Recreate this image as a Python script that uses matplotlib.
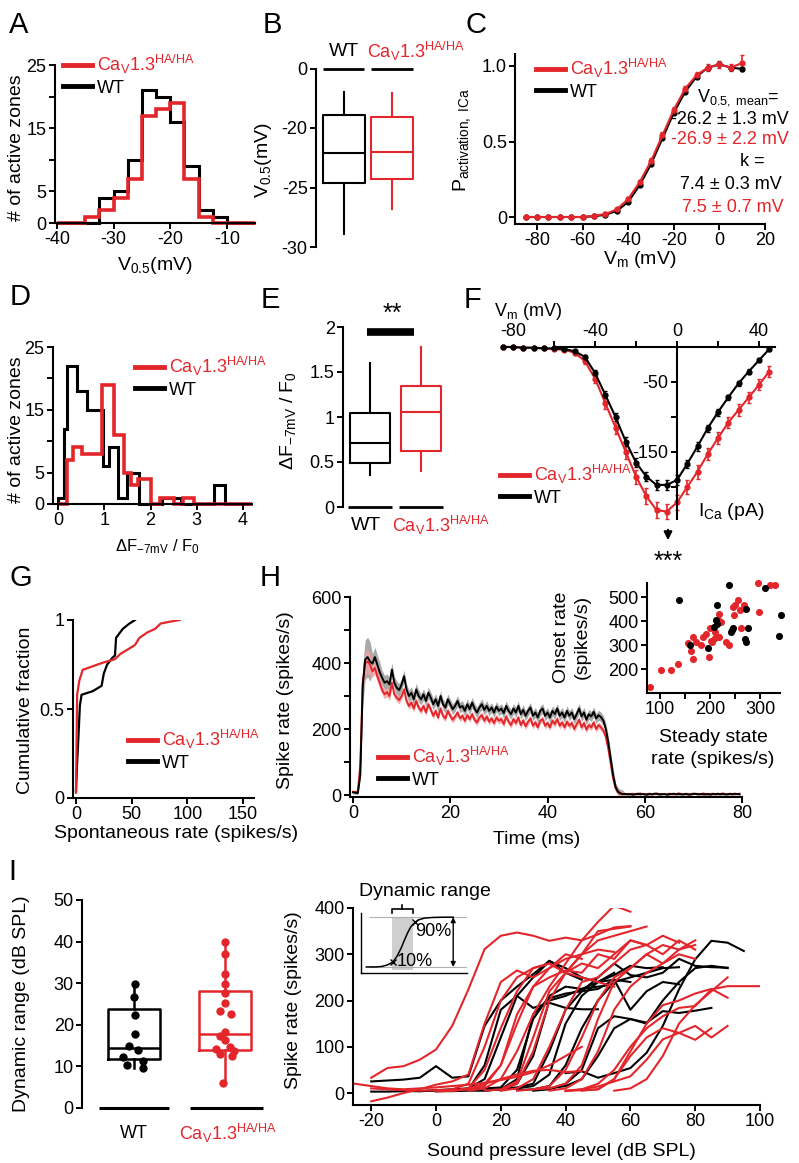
import numpy as np
import matplotlib
matplotlib.use('Agg')
import matplotlib.pyplot as plt
from matplotlib.lines import Line2D
from matplotlib.patches import FancyArrowPatch

plt.rcParams['font.family'] = ['Liberation Sans', 'DejaVu Sans']
plt.rcParams['mathtext.fontset'] = 'custom'
plt.rcParams['mathtext.rm'] = 'Liberation Sans'
plt.rcParams['mathtext.it'] = 'Liberation Sans:italic'
plt.rcParams['mathtext.bf'] = 'Liberation Sans:bold'
plt.rcParams['axes.unicode_minus'] = False

RED = '#e3262b'
FT = 13    # tick labels
FL = 14    # axis labels
FG = 13    # legends, small annotations
FP = 21    # panel letters
CAV = r'Ca$_\mathregular{V}$1.3$^\mathregular{HA/HA}$'

# ---------------- data ----------------
# A: V0.5 histograms
a_edges = [-40, -37.5, -35, -32.5, -30, -27.5, -25, -22.5, -20, -17.5, -15, -12.5, -10, -7.5, -5]
a_wt = [0, 0, 0, 4, 5, 10, 21, 20, 16, 9, 2, 1, 0, 0]
a_ha = [0, 0, 1, 2, 4, 7, 17, 18, 19, 7, 1, 0, 0, 0]

# B: V0.5 box stats (WT, HA)
b_wt = dict(med=-22.1, q1=-24.65, q3=-18.9, whislo=-28.9, whishi=-16.95)
b_ha = dict(med=-22.0, q1=-24.3, q3=-19.05, whislo=-26.8, whishi=-17.1)

# C: activation curves
c_v = [-85, -80, -75, -70, -65, -60, -55, -50, -45, -40, -35, -30, -25, -20, -15, -10, -5, 0, 5, 10]
c_wt = [0, 0, 0, 0, 0, 0, 0.005, 0.015, 0.04, 0.1, 0.21, 0.35, 0.52, 0.69, 0.83, 0.93, 0.99, 1.01, 0.99, 0.98]
c_ha = [0, 0, 0, 0, 0, 0, 0.008, 0.02, 0.05, 0.12, 0.23, 0.37, 0.54, 0.71, 0.85, 0.94, 0.99, 1.01, 0.99, 1.02]
c_ha_err = [0, 0, 0, 0, 0, 0, 0.005, 0.01, 0.01, 0.015, 0.015, 0.02, 0.02, 0.02, 0.02, 0.02, 0.02, 0.02, 0.02, 0.05]

# D: dF/F0 histograms
d_wt_edges = [0, 0.12, 0.2, 0.42, 0.62, 0.98, 1.1, 1.29, 1.5, 1.76, 2.25, 2.65, 3.38, 3.62, 4.2]
d_wt = [1, 12, 22, 18, 15, 6, 9, 1, 5, 0, 1, 0, 3, 0]
d_ha_edges = [0, 0.19, 0.33, 0.52, 0.95, 1.22, 1.42, 1.58, 1.72, 2.0, 2.2, 2.5, 2.7, 2.95, 4.2]
d_ha = [0, 7, 9, 8, 19, 11, 5, 3, 4, 0, 1, 0, 1, 0]

# E: dF/F0 box stats
e_wt = dict(med=0.71, q1=0.49, q3=1.04, whislo=0.36, whishi=1.6)
e_ha = dict(med=1.06, q1=0.62, q3=1.34, whislo=0.4, whishi=1.78)

# F: I-V curves
f_v = [-85, -80, -75, -70, -65, -60, -55, -50, -45, -40, -35, -30, -25, -20,
       -15, -10, -5, 0, 5, 10, 15, 20, 25, 30, 35, 40, 45]
f_wt = [0, 0, -1, -1, -2, -2, -3, -6, -14, -37, -68, -100, -135, -165,
        -185, -197, -197, -190, -167, -142, -116, -93, -72, -52, -35, -19, -3]
f_ha = [0, 0, -1, -1, -2, -3, -4, -8, -20, -45, -80, -115, -150, -185,
        -213, -233, -235, -222, -200, -178, -153, -130, -108, -90, -72, -54, -35]
f_wt_err = [1, 1, 1, 1, 1, 1, 1, 2, 3, 4, 5, 6, 6, 6, 7, 7, 7, 7, 6, 6, 5, 5, 4, 4, 4, 3, 3]
f_ha_err = [1, 1, 1, 1, 1, 1, 2, 3, 4, 6, 8, 9, 10, 10, 11, 11, 11, 11, 10, 10, 9, 9, 8, 8, 8, 8, 8]

# G: cumulative spontaneous rate
g_wt_x = [0, 1, 2, 3.5, 5, 15, 23, 25, 28, 33, 35, 36, 42, 48, 53]
g_wt_y = [0.04, 0.2, 0.32, 0.52, 0.58, 0.6, 0.63, 0.7, 0.75, 0.79, 0.8, 0.9, 0.95, 0.98, 1.0]
g_ha_x = [0, 0.5, 1, 3, 6, 15, 24, 35, 40, 48, 53, 57, 64, 71, 76, 84, 93]
g_ha_y = [0.03, 0.3, 0.58, 0.66, 0.72, 0.74, 0.76, 0.78, 0.81, 0.84, 0.86, 0.9, 0.93, 0.95, 0.98, 0.99, 1.0]

# H: PSTH, 0.5 ms bins
h_wt = [8, 7, 6, 60, 330, 410, 418, 405, 398, 418, 395, 372, 355, 340, 345, 335, 380, 340, 325, 318,
        335, 360, 320, 300, 310, 290, 320, 300, 290, 305, 285, 310, 295, 275, 290, 270, 300, 275, 265, 290,
        275, 260, 270, 285, 265, 270, 255, 275, 260, 280, 262, 250, 265, 275, 258, 270, 255, 265, 250, 268,
        255, 262, 248, 270, 255, 245, 262, 250, 270, 245, 258, 240, 255, 265, 240, 250, 235, 255, 262, 240,
        250, 235, 255, 245, 262, 240, 250, 235, 255, 240, 250, 230, 245, 262, 238, 250, 228, 245, 238, 252,
        232, 242, 236, 225, 200, 160, 110, 60, 25, 10, 5, 3, 3,
        2, 3, 1, 2, 4, 2, 3, 2, 1, 3, 2, 4, 3, 2, 2, 3, 1, 2, 3, 4, 2, 3, 2, 2, 3, 1, 2, 4, 3, 2,
        3, 2, 2, 3, 1, 3, 2, 4, 2, 3, 2, 2, 3, 2, 4, 3, 2]
h_ha = [10, 8, 12, 90, 340, 400, 405, 395, 375, 385, 360, 340, 318, 305, 312, 300, 340, 305, 295, 288,
        300, 320, 285, 270, 280, 262, 285, 265, 255, 270, 250, 275, 258, 240, 255, 235, 262, 240, 232, 255,
        240, 228, 238, 250, 232, 240, 225, 242, 230, 245, 228, 220, 235, 242, 225, 238, 222, 232, 218, 235,
        225, 230, 215, 238, 222, 212, 230, 218, 235, 212, 226, 208, 222, 232, 210, 220, 205, 225, 230, 210,
        218, 205, 225, 215, 230, 210, 220, 205, 222, 210, 218, 200, 215, 228, 205, 218, 198, 212, 205, 220,
        200, 212, 205, 195, 175, 140, 95, 50, 20, 8, 4, 3, 3,
        3, 2, 4, 3, 2, 5, 3, 2, 3, 4, 2, 3, 5, 2, 3, 3, 2, 4, 3, 2, 3, 5, 3, 2, 4, 3, 2, 3, 4, 3,
        2, 5, 3, 2, 3, 4, 3, 2, 3, 5, 3, 2, 4, 3, 2, 3, 4]
# SEM in 2 ms bins
h_wt_sem2 = [5, 60, 30, 22, 20, 18, 18, 17, 17, 16, 16, 16, 16, 16, 15, 15, 15, 15, 15, 15, 15,
             15, 15, 15, 15, 15, 18, 12, 3, 2, 2, 2, 2, 2, 2, 2, 2, 2, 2, 2, 2]
h_ha_sem2 = [5, 35, 18, 14, 12, 11, 11, 10, 10, 10, 10, 10, 10, 10, 10, 10, 10, 10, 10, 10, 10,
             10, 10, 10, 10, 10, 12, 8, 2, 2, 2, 2, 2, 2, 2, 2, 2, 2, 2, 2, 2]

# H inset: steady state vs onset rate
hi_wt_x = [138, 238, 214, 211, 214, 208, 160, 195, 243, 245, 241, 272, 276, 269, 272, 310, 341, 338]
hi_wt_y = [486, 548, 468, 404, 386, 376, 298, 289, 362, 372, 356, 449, 369, 325, 311, 537, 427, 338]
hi_ha_x = [79, 101, 122, 136, 166, 162, 166, 172, 181, 186, 191, 197, 200, 202, 209, 217, 221, 217,
           216, 238, 245, 247, 255, 250, 260, 262, 267, 297, 295, 319, 329, 210, 155, 203, 231]
hi_ha_y = [124, 197, 197, 221, 241, 276, 335, 314, 300, 332, 346, 248, 369, 317, 328, 335, 397, 428,
           404, 300, 459, 424, 489, 466, 445, 369, 466, 438, 558, 548, 548, 355, 310, 314, 314]

# I left: dynamic range
i_wt_box = dict(med=14.5, q1=11.8, q3=23.7, whislo=9.5, whishi=29.8)
i_ha_box = dict(med=17.7, q1=14.0, q3=28.2, whislo=6.1, whishi=39.8)
i_wt = [29.8, 26.8, 22.4, 17.7, 15.0, 14.0, 12.3, 11.2, 10.3, 9.5]
i_wt_off = [0.01, 0.0, 0.01, 0.01, -0.06, 0.04, -0.12, 0.1, -0.08, 0.1]
i_ha = [39.8, 37.0, 32.2, 29.9, 27.7, 25.3, 23.2, 22.6, 18.3, 17.2, 16.3, 14.7, 14.1, 13.8, 12.9, 12.5, 6.1]
i_ha_off = [0.0, 0.0, 0.0, 0.0, 0.0, 0.0, -0.06, 0.07, 0.0, -0.05, 0.0, 0.05, -0.1, 0.1, -0.06, 0.08, -0.02]

# I right: rate-level functions, (first level dB SPL, rates every 5 dB)
rl_wt = [
    (-20, [25, 27, 29, 33, 58, 33, 36, 145, 200, 230, 257, 286, 260, 245]),
    (-20, [3, 3, 4, 4, 5, 5, 8, 60, 180, 210, 184, 195, 184, 181, 181]),
    (-10, [5, 4, 6, 8, 10, 30, 120, 210, 250, 285, 270, 250, 240, 260]),
    (0, [5, 6, 8, 10, 12, 50, 160, 210, 230, 225, 240, 255, 275, 270, 272]),
    (20, [10, 12, 20, 90, 180, 220, 250, 280, 255, 250, 260, 290, 275, 272, 271]),
    (20, [8, 10, 15, 40, 150, 210, 240, 245, 180, 220, 240, 235]),
    (25, [6, 8, 15, 60, 140, 200, 240, 250, 260, 270, 272]),
    (30, [5, 8, 20, 50, 140, 166, 160, 152, 177, 173, 178, 184]),
    (40, [43, 47, 33, 43, 54, 87, 145, 224, 289, 329, 325, 307]),
    (15, [5, 8, 30, 170, 205, 215, 220, 225, 245, 240]),
    (0, [4, 4, 5, 5, 8, 20, 80, 200, 210, 225, 230, 235]),
    (35, [10, 15, 30, 80, 140, 160, 150, 200, 240, 270, 275, 270]),
]
rl_ha = [
    (-20, [33, 54, 58, 72, 94, 145, 224, 311, 340, 347, 340, 329, 336, 330, 343, 358, 361]),
    (10, [5, 10, 30, 90, 170, 230, 280, 330, 370, 405, 392]),
    (5, [5, 8, 20, 60, 150, 230, 270, 290, 300, 330, 340, 350, 360]),
    (0, [5, 5, 8, 15, 60, 170, 230, 250, 265, 260, 300, 290, 330, 320]),
    (-20, [10, 8, 6, 5, 6, 8, 20, 100, 200, 250, 270, 280, 260, 300, 310, 305]),
    (-20, [-18, -10, 0, 8, 18, 25, 40, 150, 240, 265, 250, 270, 300, 290]),
    (15, [5, 8, 25, 120, 220, 260, 280, 270, 300, 330, 320, 340, 325]),
    (20, [5, 10, 30, 100, 180, 240, 250, 280, 310, 320, 300, 330, 310]),
    (25, [5, 8, 15, 50, 120, 200, 250, 270, 300, 320, 310, 330]),
    (30, [8, 10, 20, 60, 160, 240, 270, 300, 280, 310, 320]),
    (35, [5, 10, 30, 90, 180, 230, 260, 280, 300, 290]),
    (40, [4, 8, 14, 25, 36, 72, 116, 130, 145, 120, 145]),
    (40, [5, 8, 20, 50, 100, 140, 166, 184, 188, 224, 231, 231, 231]),
    (45, [5, 8, 30, 90, 150, 190, 200, 215, 225, 206]),
    (40, [5, 6, 8, 30, 80, 120, 140, 130, 115, 140]),
    (55, [5, 10, 30, 80, 150, 190, 220, 250]),
    (0, [3, 5, 10, 20, 30, 40, 48, 50, 45, 48]),
    (-25, [20, 15, 10, 8, 10, 12, 15, 18, 22, 28, 35, 45, 60, 80, 100]),
    (20, [6, 20, 90, 200, 260, 300, 350, 355, 360]),
    (5, [5, 10, 50, 140, 220, 270, 280, 260, 250, 240, 230]),
]

# I inset schematic sigmoid (axes units 0-100)
sk_x = [5, 15, 20, 25, 30, 34, 38, 41, 44, 47, 51, 55, 60, 68, 78, 87]
sk_y = [10, 10.2, 11, 13.5, 18.3, 28, 42, 55, 67, 77, 84.7, 89, 91.5, 92.6, 93, 93]

# ---------------- layout helpers ----------------
W, H = 799, 1163
fig = plt.figure(figsize=(W / 100, H / 100), dpi=100)


def place(xlim, ylim, xcal, ycal):
    # axes whose data coords map onto the given pixel calibration points
    (a, pa), (b, pb) = xcal
    sx = (pb - pa) / (b - a)
    x0 = pa + (xlim[0] - a) * sx
    x1 = pa + (xlim[1] - a) * sx
    (c, pc), (d, pd) = ycal
    sy = (pd - pc) / (d - c)
    yb = pc + (ylim[0] - c) * sy
    yt = pc + (ylim[1] - c) * sy
    ax = fig.add_axes([x0 / W, 1 - yb / H, (x1 - x0) / W, (yb - yt) / H])
    ax.set_xlim(xlim)
    ax.set_ylim(ylim)
    ax.patch.set_alpha(0)
    ax.spines['top'].set_visible(False)
    ax.spines['right'].set_visible(False)
    for s in ax.spines.values():
        s.set_linewidth(1.5)
    ax.tick_params(which='both', direction='out', length=4, width=1.4, labelsize=FT, pad=2)
    return ax


def txt(x, y, s, **kw):
    kw.setdefault('ha', 'center')
    kw.setdefault('va', 'center')
    kw.setdefault('fontsize', FL)
    fig.text(x / W, 1 - y / H, s, **kw)


def leg(ax, x, y, lw=3.5):
    hs = [Line2D([], [], color=RED, lw=lw), Line2D([], [], color='k', lw=lw)]
    ax.legend(hs, [CAV, 'WT'], loc='upper left', bbox_to_anchor=(x / W, 1 - y / H),
              bbox_transform=fig.transFigure, frameon=False, handlelength=1.6,
              handletextpad=0.3, labelspacing=0.2, borderpad=0, borderaxespad=0,
              fontsize=FG, labelcolor='linecolor')


def box(ax, st, pos, color, width, lw=1.5):
    ax.bxp([dict(st, fliers=[])], positions=[pos], widths=width, showcaps=False,
           showfliers=False, boxprops=dict(color=color, lw=lw),
           medianprops=dict(color=color, lw=lw), whiskerprops=dict(color=color, lw=lw),
           manage_ticks=False)


# ---------------- A ----------------
ax = place((-40.4, -5), (0, 25), ((-40, 57), (-10, 227)), ((0, 223), (25, 65)))
ax.stairs(a_wt, a_edges, color='k', lw=2.2, clip_on=False)
ax.stairs(a_ha, a_edges, color=RED, lw=2.6, clip_on=False)
ax.set_xticks([-40, -30, -20, -10])
ax.set_yticks([0, 5, 10, 15, 20, 25], ['0', '5', '', '15', '', '25'])
leg(ax, 63, 53)
txt(17, 148, '# of active zones', rotation=90)
txt(155, 266, r'V$_\mathregular{0.5}$(mV)')

# ---------------- B ----------------
ax = place((0.417, 2.45), (-30, -15), ((1, 344), (2, 392)), ((-20, 128), (-25, 187.5)))
box(ax, b_wt, 1, 'k', 0.86)
box(ax, b_ha, 2, RED, 0.86)
ax.hlines([-15, -15], [0.56, 1.56], [1.42, 2.44], colors='k', lw=2, clip_on=False)
ax.spines['bottom'].set_visible(False)
ax.set_xticks([])
ax.set_yticks([-30, -25, -20, -15], ['-30', '-25', '-20', '0'])
txt(344, 51, 'WT')
txt(367, 51, CAV, color=RED, ha='left', fontsize=FG)
txt(264, 160, r'V$_\mathregular{0.5}$(mV)', rotation=90)

# ---------------- C ----------------
ax = place((-89.5, 20), (-0.045, 1.08), ((-80, 537), (20, 765)), ((0, 217), (1, 66)))
ax.errorbar(c_v, c_ha, yerr=c_ha_err, color=RED, lw=1.5, marker='o', ms=3.5, capsize=1.5, elinewidth=1.2)
ax.plot(c_v, c_wt, color='k', lw=1.5, marker='o', ms=3.5)
ax.set_xticks([-80, -60, -40, -20, 0, 20])
ax.set_yticks([0, 0.5, 1.0], ['0', '0.5', '1.0'])
leg(ax, 536, 57)
txt(462, 140, r'P$_\mathregular{activation,\ ICa}$', rotation=90)
txt(640, 259, r'V$_\mathregular{m}$ (mV)')
txt(738, 98, r'V$_\mathregular{0.5,\ mean}$=', fontsize=FG)
txt(730, 119, '-26.2 ± 1.3 mV', fontsize=FG)
txt(730, 140, '-26.9 ± 2.2 mV', color=RED, fontsize=FG)
txt(752, 161, 'k =', fontsize=FG)
txt(731, 184, '7.4 ± 0.3 mV', fontsize=FG)
txt(733, 207, '7.5 ± 0.7 mV', color=RED, fontsize=FG)

# ---------------- D ----------------
ax = place((-0.11, 4.2), (0, 25), ((0, 58), (4, 243)), ((0, 504), (25, 347)))
ax.stairs(d_wt, d_wt_edges, color='k', lw=2.2, clip_on=False)
ax.stairs(d_ha, d_ha_edges, color=RED, lw=2.6, clip_on=False)
ax.set_xticks([0, 1, 2, 3, 4])
ax.set_yticks([0, 5, 10, 15, 20, 25], ['0', '5', '', '15', '', '25'])
leg(ax, 135, 355)
txt(17, 430, '# of active zones', rotation=90)
txt(157, 547, r'ΔF$_\mathregular{-7mV}$ / F$_\mathregular{0}$', fontsize=12)

# ---------------- E ----------------
ax = place((0.47, 2.45), (0, 2), ((1, 370), (2, 421)), ((0, 507), (2, 327)))
box(ax, e_wt, 1, 'k', 0.8)
box(ax, e_ha, 2, RED, 0.8)
ax.hlines([0, 0], [0.56, 1.56], [1.44, 2.44], colors='k', lw=2, clip_on=False)
ax.plot([0.94, 1.86], [1.94, 1.94], color='k', lw=5.5, solid_capstyle='butt', clip_on=False)
ax.spines['bottom'].set_visible(False)
ax.set_xticks([])
ax.set_yticks([0, 0.5, 1, 1.5, 2], ['0', '0.5', '1', '1.5', '2'])
txt(392, 314, '**', fontsize=18)
txt(366, 525, 'WT')
txt(392, 525, CAV, color=RED, ha='left', fontsize=FG)
txt(288, 420, r'ΔF$_\mathregular{-7mV}$ / F$_\mathregular{0}$', rotation=90)

# ---------------- F ----------------
ax = place((-90, 50), (-250, 0), ((0, 677), (40, 759)), ((0, 347), (-100, 417)))
ax.spines['bottom'].set_visible(False)
ax.spines['top'].set_visible(True)
ax.spines['top'].set_bounds(-60, 48)
ax.spines['left'].set_position(('data', 0))
ax.spines['left'].set_bounds(-246, 0)
ax.xaxis.tick_top()
ax.set_xticks([-80, -40, 0, 40])
ax.set_xticks([-60, -20, 20], minor=True)
ax.xaxis.get_major_ticks()[0].tick2line.set_visible(False)
ax.set_yticks([-50, -150])
ax.set_yticks([-100, -200], minor=True)
ax.tick_params(axis='x', which='both', pad=1)
ax.errorbar(f_v, f_ha, yerr=f_ha_err, color=RED, lw=1.5, marker='o', ms=3.5, capsize=1.5,
            elinewidth=1.2, clip_on=False)
ax.errorbar(f_v, f_wt, yerr=f_wt_err, color='k', lw=1.5, marker='o', ms=3.5, capsize=1.5,
            elinewidth=1.2, clip_on=False)
leg(ax, 500, 463)
txt(528, 312, r'V$_\mathregular{m}$ (mV)', fontsize=FG)
txt(698, 512, r'I$_\mathregular{Ca}$ (pA)', ha='left')
fig.add_artist(FancyArrowPatch((668 / W, 1 - 527 / H), (668 / W, 1 - 543 / H),
                               transform=fig.transFigure, arrowstyle='-|>', mutation_scale=12,
                               color='k', lw=1.5))
txt(668, 562, '***', fontsize=18)

# ---------------- G ----------------
ax = place((-2.7, 160), (0, 1), ((0, 76), (150, 243)), ((0, 798), (1, 620)))
ax.plot(g_wt_x, g_wt_y, color='k', lw=1.6)
ax.plot(g_ha_x, g_ha_y, color=RED, lw=1.6)
ax.set_xticks([0, 50, 100, 150])
ax.set_yticks([0, 0.5, 1], ['0', '0.5', '1'])
leg(ax, 128, 728)
txt(26, 710, 'Cumulative fraction', rotation=90)
txt(176, 833, 'Spontaneous rate (spikes/s)')

# ---------------- H ----------------
ax = place((-0.6, 80), (-6, 600), ((0, 353), (80, 742)), ((0, 795), (600, 597)))
t_wt = np.arange(len(h_wt)) * 0.5
t_ha = np.arange(len(h_ha)) * 0.5
s_wt = np.array(h_wt_sem2)[np.minimum((t_wt // 2).astype(int), len(h_wt_sem2) - 1)]
s_ha = np.array(h_ha_sem2)[np.minimum((t_ha // 2).astype(int), len(h_ha_sem2) - 1)]
ax.fill_between(t_wt, np.array(h_wt) - s_wt, np.array(h_wt) + s_wt, color='#a9a9a9', lw=0)
ax.fill_between(t_ha, np.array(h_ha) - s_ha, np.array(h_ha) + s_ha, color='#f3a3a3', lw=0, alpha=0.85)
ax.plot(t_ha, h_ha, color=RED, lw=1.4)
ax.plot(t_wt, h_wt, color='k', lw=1.4)
ax.set_xticks([0, 20, 40, 60, 80])
ax.set_yticks([0, 200, 400, 600])
ax.set_yticks([100, 300, 500], minor=True)
leg(ax, 378, 745)
txt(285, 700, 'Spike rate (spikes/s)', rotation=90)
txt(537, 839, 'Time (ms)')

# H inset
ax = place((74, 340), (100, 560), ((100, 660), (300, 760)), ((200, 669), (500, 597)))
ax.scatter(hi_wt_x, hi_wt_y, s=26, color='k', lw=0, clip_on=False, zorder=3)
ax.scatter(hi_ha_x, hi_ha_y, s=26, color=RED, lw=0, clip_on=False, zorder=2)
ax.set_xticks([100, 200, 300])
ax.set_xticks([150, 250], minor=True)
ax.set_yticks([200, 300, 400, 500])
txt(562, 637, 'Onset rate', rotation=90)
txt(582, 637, '(spikes/s)', rotation=90)
txt(713, 737, 'Steady state')
txt(713, 760, 'rate (spikes/s)')

# ---------------- I left ----------------
ax = place((0.43, 2.45), (0, 50), ((1, 134), (2, 225)), ((0, 1108), (50, 900)))
box(ax, i_wt_box, 1, 'k', 0.57, lw=1.8)
box(ax, i_ha_box, 2, RED, 0.57, lw=1.8)
ax.scatter(1 + np.array(i_wt_off), i_wt, s=36, color='k', lw=0, zorder=3)
ax.scatter(2 + np.array(i_ha_off), i_ha, s=36, color=RED, lw=0, zorder=3)
ax.hlines([0, 0], [0.62, 1.62], [1.38, 2.42], colors='k', lw=2.2, clip_on=False)
ax.spines['bottom'].set_visible(False)
ax.set_xticks([])
ax.set_yticks([0, 10, 20, 30, 40, 50])
txt(134, 1133, 'WT', fontsize=FG)
txt(228, 1133, CAV, color=RED, fontsize=FG)
txt(22, 1004, 'Dynamic range (dB SPL)', rotation=90)

# ---------------- I right ----------------
ax = place((-25.6, 100), (-25, 400), ((0, 436), (100, 760)), ((0, 1093), (400, 908)))
for start, rates in rl_wt:
    ax.plot(start + 5 * np.arange(len(rates)), rates, color='k', lw=1.5)
for start, rates in rl_ha:
    ax.plot(start + 5 * np.arange(len(rates)), rates, color=RED, lw=1.5)
ax.set_xticks([-20, 0, 20, 40, 60, 80, 100])
ax.set_yticks([0, 100, 200, 300, 400])
txt(293, 1000, 'Spike rate (spikes/s)', rotation=90)
txt(561, 1151, 'Sound pressure level (dB SPL)')

# I inset schematic
ax = place((0, 100), (0, 100), ((0, 361), (100, 467)), ((0, 973), (100, 913)))
ax.set_xticks([])
ax.set_yticks([])
for s in ax.spines.values():
    s.set_linewidth(1.0)
ax.axvspan(29, 49, ymin=0.05, ymax=0.92, color='#cfcfcf', lw=0)
ax.hlines([10, 93], 8, 100, colors='#b0b0b0', lw=0.8)
ax.plot(sk_x, sk_y, color='k', lw=1.1)
ax.plot([sk_x[4], sk_x[10]], [sk_y[4], sk_y[10]], 'kx', ms=5, mew=1)
ax.annotate('', xy=(87, 10), xytext=(87, 93), arrowprops=dict(arrowstyle='<|-|>', color='k', lw=1,
            mutation_scale=7, shrinkA=0, shrinkB=0))
ax.plot([29, 29, 49, 49], [100, 107, 107, 100], color='k', lw=1.2, clip_on=False)
ax.plot([39, 39], [107, 113], color='k', lw=1.2, clip_on=False)
txt(425, 892, 'Dynamic range')
txt(433, 932, '90%', fontsize=FG)
txt(415, 961, '10%', fontsize=FG)

# panel letters
for s, x, y in [('A', 19, 25), ('B', 272, 25), ('C', 476, 25), ('D', 20, 297), ('E', 270, 300),
                ('F', 472, 300), ('G', 21, 578), ('H', 270, 578), ('I', 12, 872)]:
    txt(x, y, s, fontsize=FP)

fig.savefig('out.png', dpi=100)
